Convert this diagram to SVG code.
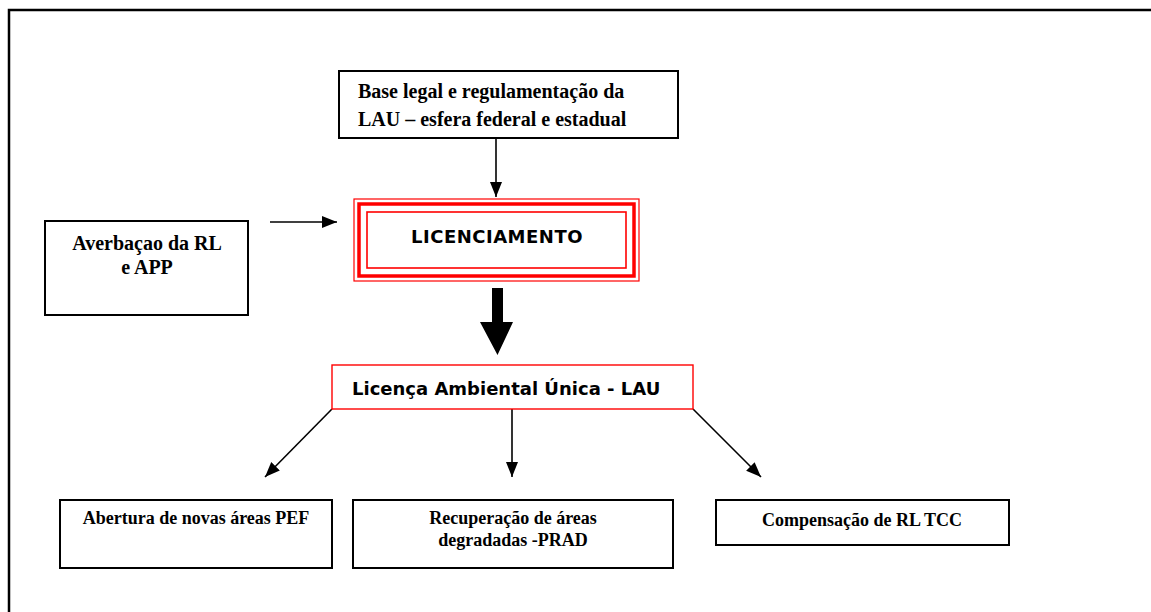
<svg xmlns="http://www.w3.org/2000/svg" width="1151" height="612" viewBox="0 0 1151 612">
<style>
.box{fill:#fff;stroke:#000;stroke-width:2}
.serif{font-family:"Liberation Serif","Times New Roman",serif;font-weight:bold;font-size:18px;fill:#000}
.big{font-size:20px}
.sans{font-family:"DejaVu Sans",Verdana,sans-serif;font-weight:bold;font-size:18px;fill:#000}
.ln{stroke:#000;stroke-width:1.6;fill:none;marker-end:url(#ah)}
</style>
<defs>
<marker id="ah" markerUnits="userSpaceOnUse" markerWidth="16" markerHeight="16" viewBox="0 0 16 16" refX="15" refY="8" orient="auto">
<path d="M0,2 L15,8 L0,14 Z" fill="#000"/>
</marker>
</defs>
<rect width="1151" height="612" fill="#fff"/>
<path d="M9,612 V10 H1151" fill="none" stroke="#000" stroke-width="2.5"/>

<g id="connectors">
<line class="ln" x1="496" y1="138" x2="496" y2="197"/>
<line class="ln" x1="270" y1="222" x2="337" y2="222"/>
<path d="M492,288 H503 V322 H513 L497.5,355 L480,322 H492 Z" fill="#000"/>
<line class="ln" x1="332" y1="409" x2="265" y2="477"/>
<line class="ln" x1="512" y1="409" x2="512" y2="477"/>
<line class="ln" x1="693" y1="409" x2="761" y2="477"/>
</g>

<g id="node-base">
<rect class="box" x="339" y="71" width="339" height="67"/>
<text class="serif big" x="358" y="98">Base legal e regulamentação da</text>
<text class="serif big" x="358" y="126">LAU – esfera federal e estadual</text>
</g>

<g id="node-averbacao">
<rect class="box" x="45" y="221" width="203" height="94"/>
<text class="serif big" x="147" y="250" text-anchor="middle">Averbaçao da RL</text>
<text class="serif big" x="147" y="274" text-anchor="middle">e APP</text>
</g>

<g id="node-licenciamento">
<rect x="354" y="199" width="285" height="82" fill="#fff" stroke="#f00" stroke-width="1.2"/>
<rect x="359" y="204" width="275" height="72" fill="none" stroke="#f00" stroke-width="3.5"/>
<rect x="367" y="212" width="259" height="56" fill="none" stroke="#f00" stroke-width="1.6"/>
<text class="sans" x="497" y="243" text-anchor="middle" letter-spacing="0.5">LICENCIAMENTO</text>
</g>

<g id="node-lau">
<rect x="332" y="365" width="361" height="44" fill="#fff" stroke="#f00" stroke-width="1.4"/>
<text class="sans" x="352" y="395" font-size="17.8">Licença Ambiental Única - LAU</text>
</g>

<g id="node-abertura">
<rect class="box" x="60" y="500" width="272" height="68"/>
<text class="serif" x="196" y="524" text-anchor="middle">Abertura de novas áreas PEF</text>
</g>

<g id="node-recuperacao">
<rect class="box" x="353" y="500" width="320" height="68"/>
<text class="serif" x="513" y="524" text-anchor="middle">Recuperação de áreas</text>
<text class="serif" x="513" y="546" text-anchor="middle">degradadas -PRAD</text>
</g>

<g id="node-compensacao">
<rect class="box" x="716" y="500" width="293" height="45"/>
<text class="serif" x="862" y="526" text-anchor="middle">Compensação de RL TCC</text>
</g>
</svg>
